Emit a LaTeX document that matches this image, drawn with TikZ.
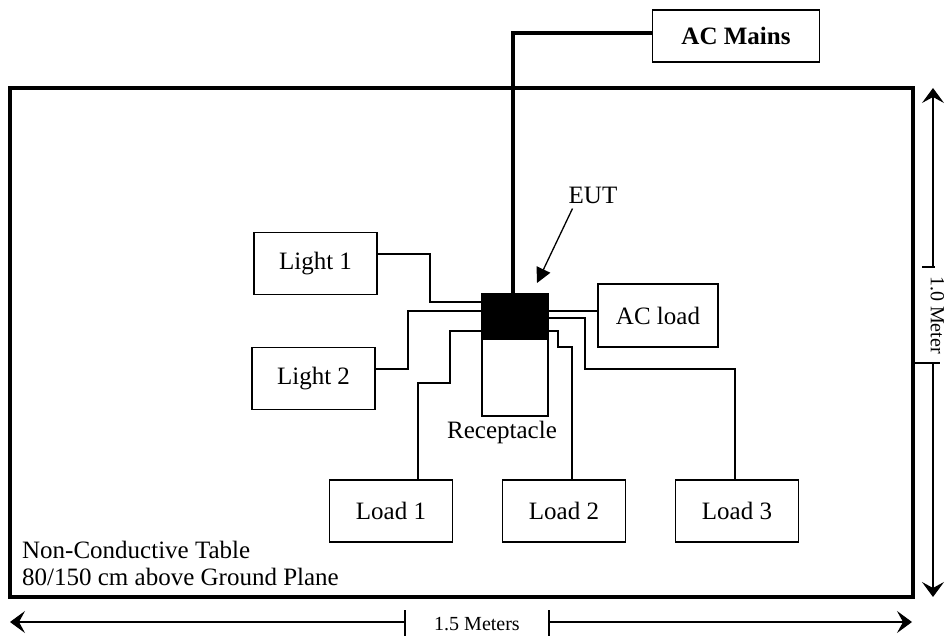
\documentclass[tikz,border=0pt]{standalone}
\usepackage{fontspec}
\setmainfont{Liberation Serif}
\usetikzlibrary{arrows.meta,positioning}
\begin{document}
\begin{tikzpicture}[
    x=1pt, y=-1pt,
    node distance=173pt,
    box/.style={rectangle, draw, line width=1.8pt, minimum width=123pt, minimum height=62pt, inner sep=0pt, font=\fontsize{25}{27}\selectfont},
    txt/.style={inner sep=0pt, font=\fontsize{25}{27}\selectfont},
    wire/.style={line width=1.8pt},
    mains/.style={line width=4pt},
    dim/.style={line width=1.2pt, >={Stealth[length=15pt,width=22pt,inset=6pt]}},
    arrow/.style={-{Triangle[length=15pt,width=15pt]}, line width=1.3pt}
]
    \useasboundingbox (0,0) rectangle (946,636);

    \node[draw, line width=3.5pt, minimum width=903pt, minimum height=509pt, inner sep=0pt] (table) at (461.5,342.5) {};
    \node[txt, anchor=base west, align=left] (tbl) at (22,585) {Non-Conductive Table\\80/150 cm above Ground Plane};

    \node[box, minimum width=167pt, minimum height=52pt, font=\fontsize{25}{27}\selectfont\bfseries] (acm) at (736,36) {AC Mains};

    \node[box] (l1) at (315.5,263.5) {Light 1};
    \node[box] (l2) at (313.5,378.5) {Light 2};
    \node[box, minimum width=120pt, minimum height=63pt] (acl) at (658,315.5) {AC load};

    \node[box] (ld1) at (391,511) {Load 1};
    \node[box, right of=ld1] (ld2) {Load 2};
    \node[box, right of=ld2] (ld3) {Load 3};

    % EUT and receptacle
    \node[draw, fill=black, line width=1.8pt, minimum width=66pt, minimum height=45pt, inner sep=0pt, outer sep=0pt] (eut) at (515,316.5) {};
    \node[draw, line width=1.8pt, minimum width=66pt, minimum height=77pt, inner sep=0pt, outer sep=0pt, below=0pt of eut] (rcp) {};
    \node[txt, below=5pt of rcp, xshift=-13pt] (rcpl) {Receptacle};

    \node[txt] (eutl) at (593,195) {EUT};
    \coordinate (eutp) at (537,283);
    \draw[arrow] ([xshift=4pt,yshift=-5pt]eutl.south west) -- (eutp);

    % wiring
    \draw[mains] ([yshift=3pt]acm.west) -| ([xshift=-2pt]eut.north);
    \draw[wire] ([yshift=9.5pt]l1.east) -| (430,302) -- (eut.west |- 0,302);
    \draw[wire] ([yshift=9.5pt]l2.east) -| (408,311) -- (eut.west |- 0,311);
    \draw[wire] (eut.west |- 0,331) -| (450,383) -| ([xshift=27pt]ld1.north);
    \draw[wire] (eut.east |- 0,311) -- (acl.west |- 0,311);
    \draw[wire] (eut.east |- 0,318) -| (585,369) -| ([xshift=-2pt]ld3.north);
    \draw[wire] (eut.east |- 0,331) -| (558,347) -| ([xshift=8pt]ld2.north);

    % dimensions
    \coordinate (vtop) at (933,88);
    \coordinate (vt1) at (933,267);
    \coordinate (vt2) at (933,363);
    \coordinate (vbot) at (933,597);
    \draw[dim, <-] (vtop) -- (vt1);
    \draw[dim, ->] (vt2) -- (vbot);
    \draw[dim] ([xshift=-11pt]vt1) -- ([xshift=2pt]vt1);
    \draw[dim] (table.east |- vt2) -- ([xshift=7pt]vt2);
    \node[txt, rotate=-90, font=\fontsize{20}{22}\selectfont] (vlen) at (937.5,315) {1.0 Meter};

    \coordinate (hl) at (10,622);
    \coordinate (ht1) at (405,622);
    \coordinate (ht2) at (549,622);
    \coordinate (hr) at (912,622);
    \draw[dim, <-] (hl) -- (ht1);
    \draw[dim, ->] (ht2) -- (hr);
    \draw[dim] ([yshift=12pt]ht1) -- ([yshift=-14pt]ht1);
    \draw[dim] ([yshift=12pt]ht2) -- ([yshift=-14pt]ht2);
    \node[txt, font=\fontsize{20}{22}\selectfont] (hlen) at (477,624) {1.5 Meters};
\end{tikzpicture}
\end{document}
